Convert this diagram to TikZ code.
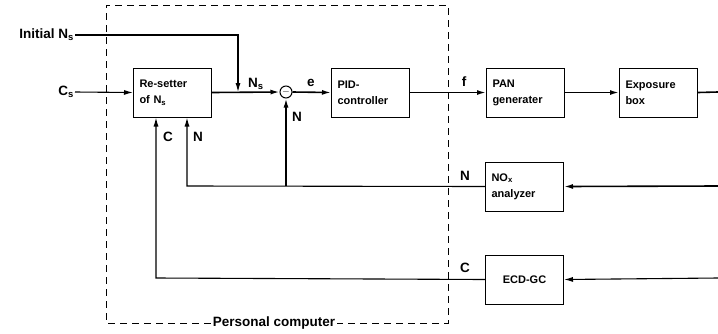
\documentclass[tikz,border=0pt]{standalone}
\usepackage{fontspec}
\setmainfont{Liberation Sans}
\usetikzlibrary{arrows.meta}

\begin{document}
\begin{tikzpicture}[x=1pt,y=-1pt,
		blk/.style={draw, rectangle, line width=1pt, minimum width=78pt, minimum height=49pt,
			inner xsep=6pt, text width=66pt, align=left, font=\bfseries\fontsize{11}{16}\selectfont},
		lbl/.style={font=\bfseries\fontsize{13.5}{15}\selectfont},
		sig/.style={line width=1.6pt, -{Latex[length=9pt,width=5pt]}},
		fb/.style={line width=1.1pt, -{Latex[length=9pt,width=5pt]}},
		pcbox/.style={line width=1pt, dash pattern=on 7pt off 5pt}]
	\useasboundingbox (0,0) rectangle (718,333);

	% blocks
	\node[blk] (reset) at (172.5,92.5) {Re-setter\\of N\textsubscript{s}};
	\node[draw, circle, line width=1pt, minimum size=12pt, inner sep=0pt] (sum) at (286,92) {$-$};
	\node[blk] (pid) at (370.5,92.5) {PID-\\controller};
	\node[blk] (pan) at (525.5,92.5) {PAN\\generater};
	\node[blk] (expo) at (658.5,92.5) {Exposure\\box};
	\node[blk] (nox) at (524.5,186.5) {NO\textsubscript{x}\\analyzer};
	\node[blk, align=center] (ecd) at (524.5,279.5) {ECD-GC};

	% inputs and free ends
	\node[lbl, anchor=east, inner sep=1pt] (init) at (75,35) {Initial N\textsubscript{s}};
	\node[lbl, anchor=east, inner sep=1pt] (cs) at (75,92) {C\textsubscript{s}};
	\coordinate (jn) at (238,92);
	\coordinate (out) at (718,92);
	\coordinate (in2) at (718,186);
	\coordinate (in3) at (718,278);
	\coordinate (nbr) at (286,186);
	\coordinate (ncor) at (187,186);
	\coordinate (ccor) at (156,278);

	% personal computer frame
	\node[lbl, inner sep=2pt] (pc) at (274,323) {Personal computer};
	\draw[pcbox] (pc.west) -| (106,5) -| (448,323) -- (pc.east);

	% forward path
	\draw[fb] (init.east) -| (jn);
	\draw[fb] (cs.east) -- (reset.west);
	\draw[sig] (reset.east) -- (sum.west);
	\draw[sig] (sum.east) -- (pid.west);
	\draw[sig] (pid.east) -- (pan.west);
	\draw[sig] (pan.east) -- (expo.west);
	\draw[line width=1.6pt] (expo.east) -- (out);

	% feedback N
	\draw[sig] (in2) -- (nox.east);
	\draw[fb] (nox.west) -- (ncor) -- (reset.south -| ncor);
	\draw[sig] (nbr) -- (sum.south);

	% feedback C
	\draw[fb] (in3) -- (ecd.east);
	\draw[fb] (ecd.west) -- (ccor) -- (reset.south -| ccor);

	% signal labels
	\node[lbl] at (256,84) {N\textsubscript{s}};
	\node[lbl] at (311,83) {e};
	\node[lbl] at (464,82) {f};
	\node[lbl] at (297,117) {N};
	\node[lbl] at (198,137) {N};
	\node[lbl] at (168,137) {C};
	\node[lbl] at (465,176) {N};
	\node[lbl] at (465,268) {C};
\end{tikzpicture}
\end{document}
